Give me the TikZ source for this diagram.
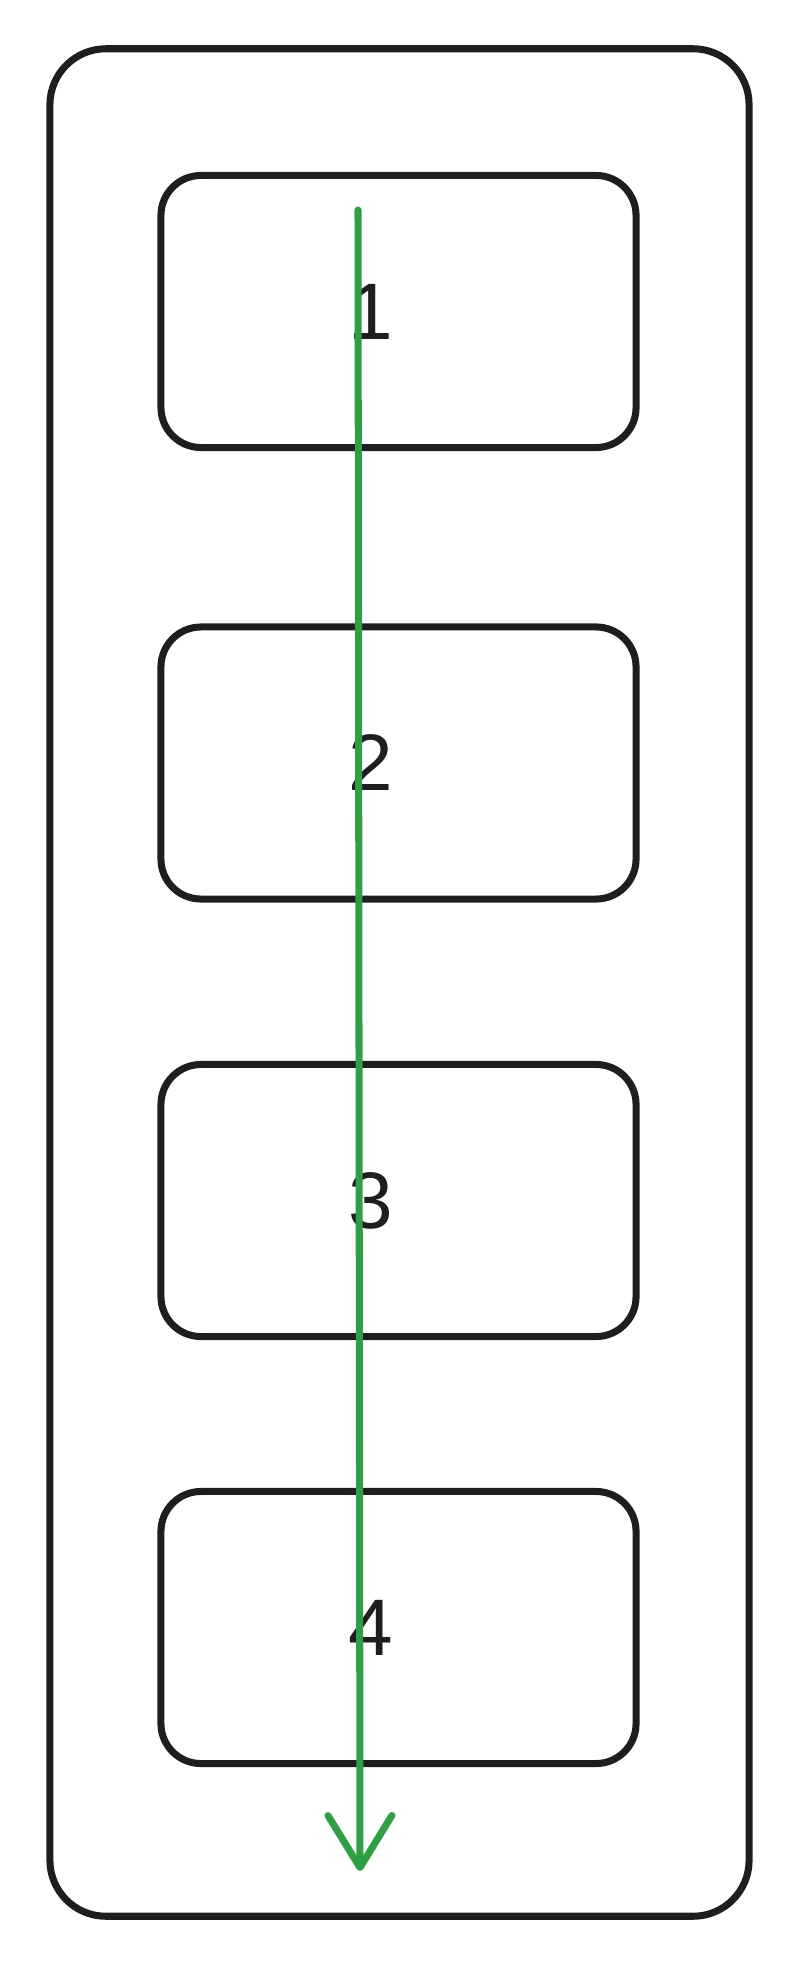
\documentclass[tikz,border=0pt]{standalone}
\usepackage{fontspec}
\setmainfont{Liberation Sans}
\usepackage{tikz}
\usetikzlibrary{arrows.meta,positioning}
\definecolor{ink}{HTML}{1E1E1E}
\definecolor{flow}{HTML}{2F9E44}
\tikzset{frame box/.style={draw=ink, line width=5pt, rounded corners=1.4cm,
  minimum width=17.475cm, minimum height=46.675cm, inner sep=0pt},
slot/.style={draw=ink, line width=5pt, rounded corners=1cm,
  minimum width=11.875cm, minimum height=6.8cm, inner sep=0pt},
num/.style={text=ink, inner sep=0pt, font=\fontsize{57}{57}\selectfont},
flow arrow/.style={draw=flow, line width=5pt, line cap=round,
  -{Straight Barb[length=1.3cm,width=1.6cm,line join=round,line cap=round]}}}

\begin{document}
\begin{tikzpicture}[x=0.025cm,y=-0.025cm]
    \useasboundingbox (0,0) rectangle (800,1970);
    \node[frame box] (frame) at (399.5, 982.5) {};

    \foreach \i/\y in {1/311.5, 2/763, 3/1200.5, 4/1627.5}{
        \node[slot] (s\i) at (398.5, \y) {};
        \node[num] (n\i) at (s\i.center) [xshift=-0.7cm] {\i};
    }

    \coordinate (start) at (358, 210);
    \coordinate (end) at (360, 1871);
    \draw[flow arrow] (start) -- (end);
\end{tikzpicture}
\end{document}
